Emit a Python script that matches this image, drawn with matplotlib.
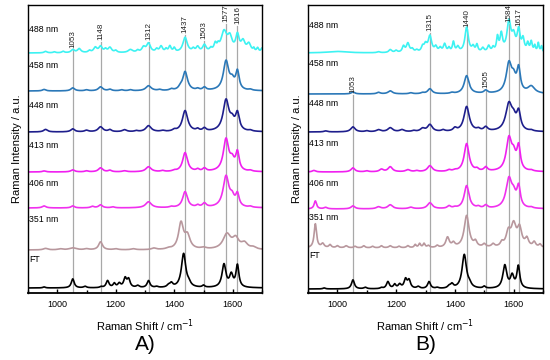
import numpy as np
import matplotlib
matplotlib.use("Agg")
import matplotlib.pyplot as plt

plt.rcParams['font.family'] = ['Liberation Sans', 'DejaVu Sans']

# ---------------- data: peak lists (centre cm-1, height a.u., half-width cm-1) ----------------
labels = ["488 nm", "458 nm", "448 nm", "413 nm", "406 nm", "351 nm", "FT"]
colors = ["#3DF2F2", "#2B78B8", "#1E1E8C", "#F020F0", "#F030EE", "#B8979D", "#000000"]

# Panel A
A_488 = [(960, 1.5, 6), (990, 1, 5), (1020, 1.5, 5), (1053, 3, 7), (1075, 4, 7), (1110, 2, 5), (1130, 5, 7),
         (1148, 6, 7), (1165, 3, 5), (1180, 5, 7), (1200, 2, 5), (1250, 3, 9), (1275, 2, 5), (1295, 5, 7),
         (1312, 9, 8), (1340, 3, 5), (1355, 6, 6), (1372, 3, 4), (1385, 6, 5), (1400, 4, 4), (1437, 15, 9),
         (1465, 3, 5), (1480, 5, 6), (1503, 7, 7), (1525, 3, 5), (1540, 7, 5), (1550, 4, 4), (1570, 20, 12),
         (1590, 13, 9), (1616, 16, 7), (1635, 10, 8), (1655, 8, 8), (1672, 3, 3), (1685, 4, 4), (1700, 4, 4)]
A_458 = [(955, 1.5, 7), (1053, 3, 8), (1100, 1, 7), (1148, 4, 9), (1180, 1.5, 7), (1220, 1, 7), (1250, 1, 7),
         (1312, 5, 11), (1350, 1, 7), (1390, 1.5, 7), (1420, 2, 7), (1437, 19, 10), (1480, 1.5, 6), (1503, 3, 7),
         (1577, 29, 11), (1598, 8, 9), (1616, 18, 7), (1660, 1, 7)]
A_448 = [(960, 2.5, 8), (1053, 3, 8), (1100, 1.5, 8), (1148, 5, 10), (1180, 2, 7), (1230, 2, 9), (1270, 1, 7),
         (1312, 6, 11), (1360, 1, 7), (1400, 1.5, 7), (1437, 21, 11), (1480, 2, 6), (1503, 3, 7), (1577, 31, 12),
         (1598, 8, 9), (1616, 17, 8), (1660, 1, 7)]
A_413 = [(955, 1, 7), (1053, 2, 8), (1100, 1, 7), (1148, 4, 9), (1180, 1.5, 7), (1230, 1, 9), (1312, 5, 11),
         (1360, 1, 7), (1400, 1, 7), (1437, 19, 10), (1480, 2, 6), (1503, 3, 7), (1577, 32, 11), (1598, 9, 9),
         (1616, 18, 7), (1660, 1, 7)]
A_406 = [(955, 2, 8), (1053, 2, 7), (1120, 1.5, 7), (1148, 3, 8), (1190, 1, 7), (1312, 6, 12), (1390, 1, 7),
         (1437, 16, 10), (1480, 2, 6), (1503, 4, 8), (1577, 31, 12), (1598, 8, 9), (1616, 12, 7), (1660, 1, 7)]
A_351 = [(960, 1.5, 9), (1010, 1, 9), (1053, 2, 14), (1100, 1, 9), (1148, 8, 8), (1200, 1, 9), (1260, 1, 9),
         (1330, 1.5, 9), (1380, 1, 9), (1423, 26, 10), (1445, 13, 11), (1500, 1.5, 11), (1580, 15, 16),
         (1610, 10, 13), (1640, 6, 13), (1670, 2, 11)]
FT = [(955, 1, 5), (1053, 9, 6), (1095, 1.5, 6), (1150, 1, 5), (1172, 7, 6), (1195, 4, 5), (1212, 4, 6),
      (1232, 9, 6), (1244, 8, 6), (1275, 2, 6), (1312, 7, 6), (1340, 1, 6), (1380, 2, 6), (1390, 4, 6),
      (1432, 34, 9), (1450, 3, 7), (1500, 2, 5), (1570, 23, 8), (1595, 12, 7), (1616, 22, 6)]

# Panel B
B_488 = [(1000, 1.5, 40), (1140, 1, 6), (1180, 3, 6), (1200, 2, 5), (1225, 6, 5), (1240, 9, 6), (1255, 3, 5),
         (1270, 2, 5), (1290, 5, 5), (1300, 7, 6), (1315, 16, 7), (1335, 5, 5), (1350, 4, 5), (1365, 8, 5),
         (1380, 4, 4), (1395, 10, 4), (1410, 5, 5), (1440, 25, 7), (1462, 5, 5), (1475, 7, 4), (1495, 4, 5),
         (1515, 6, 5), (1530, 4, 4), (1545, 14, 4), (1558, 17, 5), (1584, 30, 8), (1600, 14, 7), (1617, 21, 6),
         (1632, 12, 5), (1648, 8, 4), (1660, 10, 4), (1672, 6, 3), (1684, 9, 3), (1695, 6, 3)]
B_458 = [(1053, 2, 7), (1140, 1.5, 7), (1180, 3, 9), (1250, 1, 7), (1290, 1, 7), (1315, 5, 9), (1390, 1, 7),
         (1440, 18, 10), (1505, 3, 7), (1584, 29, 11), (1600, 12, 9), (1617, 23, 7), (1660, 7, 14)]
B_448 = [(960, 1, 7), (1053, 5, 9), (1100, 1, 7), (1140, 2, 9), (1180, 4, 10), (1220, 2, 9), (1260, 1, 7),
         (1290, 3, 9), (1315, 7, 10), (1360, 1.5, 7), (1400, 3, 7), (1440, 25, 11), (1480, 2, 7), (1505, 4, 8),
         (1584, 27, 13), (1600, 9, 9), (1617, 18, 8), (1660, 1, 7)]
B_413 = [(920, 1.5, 7), (1053, 4, 8), (1100, 1, 7), (1150, 2.5, 8), (1180, 5, 9), (1240, 2, 9), (1270, 1, 7),
         (1315, 6, 10), (1380, 1.5, 7), (1400, 1, 7), (1440, 28, 10), (1475, 2, 6), (1505, 4, 7), (1584, 32, 11),
         (1600, 13, 9), (1617, 23, 7), (1660, 1, 7)]
B_406 = [(925, 8, 5), (960, 1.5, 7), (1053, 3, 8), (1140, 2, 9), (1180, 4, 10), (1250, 1.5, 9), (1315, 6, 10),
         (1380, 2.5, 7), (1400, 1, 7), (1440, 23, 10), (1480, 1.5, 6), (1505, 3, 7), (1584, 29, 12),
         (1600, 10, 9), (1617, 20, 7), (1660, 1, 7)]
B_351 = [(925, 24, 5), (950, 4, 6), (975, 3, 5), (1000, 2, 5), (1030, 2, 6), (1060, 1.5, 5), (1090, 2, 5),
         (1120, 1.5, 5), (1150, 2, 5), (1180, 2, 6), (1210, 1.5, 5), (1240, 2, 5), (1265, 3, 4), (1280, 4, 4),
         (1295, 4, 4), (1310, 2, 5), (1340, 2, 5), (1375, 10, 7), (1395, 4, 6), (1440, 32, 10), (1470, 5, 6),
         (1500, 3, 6), (1530, 3, 6), (1560, 4, 6), (1582, 14, 9), (1600, 21, 10), (1620, 18, 9), (1645, 8, 7),
         (1670, 5, 6), (1690, 3, 5)]

A_spectra = [A_488, A_458, A_448, A_413, A_406, A_351, FT]
B_spectra = [B_488, B_458, B_448, B_413, B_406, B_351, FT]

# vertical offsets of the stacked traces and their labels (style)
A_offsets = [240, 202, 161, 121, 85, 43, 5]
B_offsets = [240, 199, 161, 121, 84, 45, 4]
A_label_dy = [24, 25, 27, 27, 24, 30, 28]
B_label_dy = [28, 31, 28, 29, 26, 30, 33]

A_marks = [1053, 1148, 1312, 1437, 1503, 1577, 1616]
A_mark_y = [245, 253, 253, 260, 254, 271, 269]  # bottom of rotated labels (style)
B_marks = [1053, 1315, 1440, 1505, 1584, 1617]
B_mark_y = [200, 262, 266, 205, 271, 267]

x = np.linspace(900, 1700, 1601)


def spectrum(peaks):
    y = np.zeros_like(x)
    for c, h, w in peaks:
        y += h / (1 + ((x - c) / w) ** 2)
    return y


fig = plt.figure(figsize=(5.5, 3.6), dpi=100)
axA = fig.add_axes([28 / 550, 1 - 293 / 360, 234 / 550, 288 / 360])
axB = fig.add_axes([308 / 550, 1 - 293 / 360, 235 / 550, 288 / 360])

for ax, spectra, offsets, dys, marks, mark_y, letter in [
        (axA, A_spectra, A_offsets, A_label_dy, A_marks, A_mark_y, "A)"),
        (axB, B_spectra, B_offsets, B_label_dy, B_marks, B_mark_y, "B)")]:
    for m, my in zip(marks, mark_y):
        ax.plot([m, m], [0, my - 2], color="#A8A8A8", lw=0.9, zorder=1)
        ax.text(m, my, str(m), rotation=90, ha="center", va="bottom", fontsize=5.8, color="#222222")
    for peaks, off, dy, col, lab in zip(spectra, offsets, dys, colors, labels):
        ax.plot(x, spectrum(peaks) + off, color=col, lw=1.2, zorder=2)
        ax.text(904, off + dy, lab, fontsize=6.3, ha="left", va="center")
    ax.set_xlim(900, 1700)
    ax.set_ylim(0, 288)
    ax.set_yticks([])
    ax.set_xticks([1000, 1200, 1400, 1600])
    ax.set_xticks([900, 1100, 1300, 1500, 1700], minor=True)
    ax.tick_params(axis="x", which="major", direction="in", length=3, width=1, labelsize=6.5, pad=5)
    ax.tick_params(axis="x", which="minor", direction="in", length=2, width=1)
    for s in ax.spines.values():
        s.set_linewidth(1.0)
    ax.spines["bottom"].set_linewidth(1.3)
    ax.set_xlabel("Raman Shift / cm$^{-1}$", fontsize=8, labelpad=6)
    ax.set_ylabel("Raman Intensity / a.u.", fontsize=8, labelpad=4)
    ax.text(0.5, -0.178, letter, transform=ax.transAxes, ha="center", va="center", fontsize=15)

fig.savefig("out.png", dpi=100)
